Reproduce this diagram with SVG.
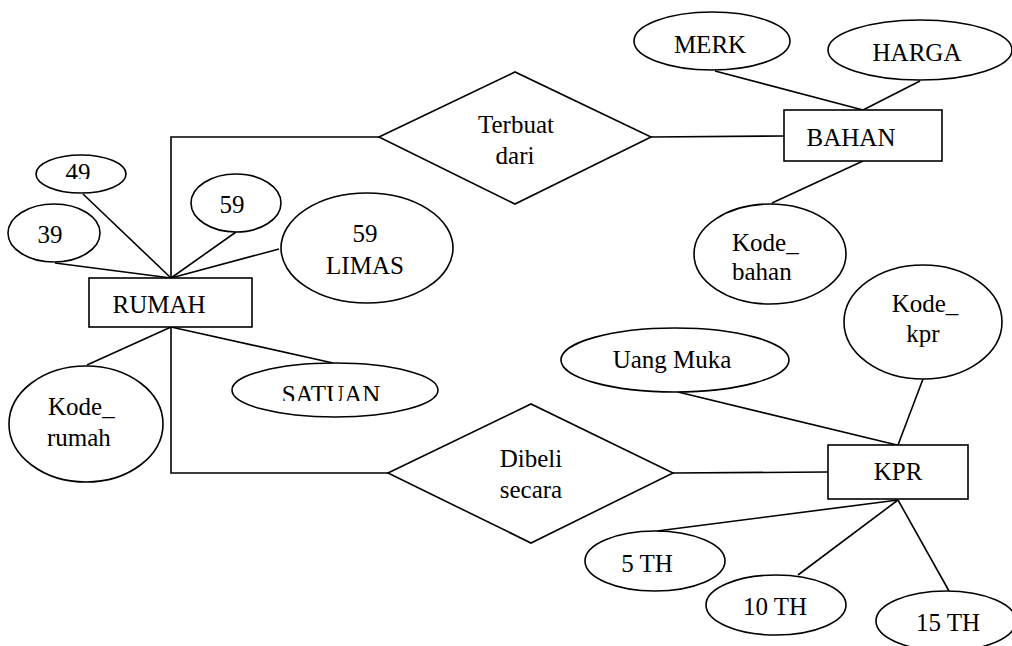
<svg xmlns="http://www.w3.org/2000/svg" width="1012" height="646" viewBox="0 0 1012 646">
<style>
.s{fill:#fff;stroke:#000;stroke-width:1.6}
.c{fill:none;stroke:#000;stroke-width:1.6}
text{font-family:"Liberation Serif","Times New Roman",serif;font-size:25px;fill:#000}
.m{text-anchor:middle}
</style>
<defs>
<clipPath id="clip49"><rect x="0" y="150" width="200" height="29"/></clipPath>
<clipPath id="clipSat"><rect x="220" y="370" width="240" height="31"/></clipPath>
</defs>
<rect width="1012" height="646" fill="#fff"/>
<g id="connectors" class="c">
<polyline points="171,278 171,137 379,137"/>
<line x1="651" y1="137" x2="784" y2="136"/>
<line x1="83" y1="194" x2="171" y2="278"/>
<line x1="55" y1="263" x2="171" y2="278"/>
<line x1="236" y1="232" x2="171" y2="278"/>
<line x1="279" y1="249" x2="171" y2="278"/>
<line x1="87" y1="365" x2="171" y2="327"/>
<line x1="333" y1="363" x2="171" y2="327"/>
<polyline points="171,327 171,473 388,473"/>
<line x1="673" y1="473" x2="828" y2="472"/>
<line x1="715" y1="71" x2="863" y2="110"/>
<line x1="920" y1="81" x2="863" y2="110"/>
<line x1="863" y1="161" x2="772" y2="203"/>
<line x1="678" y1="392" x2="897" y2="445"/>
<line x1="923" y1="379" x2="898" y2="445"/>
<line x1="657" y1="531" x2="898" y2="500"/>
<line x1="798" y1="575" x2="898" y2="500"/>
<line x1="949" y1="591" x2="898" y2="500"/>
</g>
<g id="rumah"><rect class="s" x="89" y="278" width="163" height="49"/><text class="m" x="159" y="313">RUMAH</text></g>
<g id="attr49"><ellipse class="s" cx="81" cy="174" rx="45" ry="19"/><text class="m" x="78" y="181" clip-path="url(#clip49)">49</text></g>
<g id="attr39"><ellipse class="s" cx="54" cy="233" rx="46" ry="29"/><text class="m" x="50" y="243">39</text></g>
<g id="attr59"><ellipse class="s" cx="236" cy="203" rx="45" ry="29"/><text class="m" x="232" y="213">59</text></g>
<g id="attr59limas"><ellipse class="s" cx="367" cy="248" rx="86" ry="55"/><text class="m" x="365" y="242">59</text><text class="m" x="365" y="274">LIMAS</text></g>
<g id="kode_rumah"><ellipse class="s" cx="86" cy="424" rx="77" ry="58"/><text x="48" y="415">Kode_</text><text x="47" y="446">rumah</text></g>
<g id="satuan"><ellipse class="s" cx="335" cy="390" rx="103" ry="27"/><text class="m" x="331" y="403" clip-path="url(#clipSat)">SATUAN</text></g>
<g id="terbuat"><polygon class="s" points="379,137 515,72 651,137 515,204"/><text class="m" x="516" y="133">Terbuat</text><text class="m" x="515" y="164">dari</text></g>
<g id="bahan"><rect class="s" x="784" y="110" width="158" height="51"/><text class="m" x="851" y="146">BAHAN</text></g>
<g id="merk"><ellipse class="s" cx="712" cy="41" rx="78" ry="29"/><text class="m" x="710" y="53">MERK</text></g>
<g id="harga"><ellipse class="s" cx="920" cy="50" rx="92" ry="30"/><text class="m" x="917" y="61">HARGA</text></g>
<g id="kode_bahan"><ellipse class="s" cx="770" cy="254" rx="76" ry="50"/><text x="732" y="251">Kode_</text><text x="732" y="280">bahan</text></g>
<g id="dibeli"><polygon class="s" points="388,473 531,404 673,473 531,543"/><text class="m" x="531" y="467">Dibeli</text><text class="m" x="531" y="498">secara</text></g>
<g id="kpr"><rect class="s" x="828" y="445" width="140" height="54"/><text class="m" x="898" y="480">KPR</text></g>
<g id="uang_muka"><ellipse class="s" cx="675" cy="360" rx="114" ry="32"/><text class="m" x="672" y="368">Uang Muka</text></g>
<g id="kode_kpr"><ellipse class="s" cx="923" cy="322" rx="79" ry="57"/><text class="m" x="925" y="312">Kode_</text><text class="m" x="923" y="342">kpr</text></g>
<g id="th5"><ellipse class="s" cx="655" cy="561" rx="70" ry="30"/><text class="m" x="647" y="572">5 TH</text></g>
<g id="th10"><ellipse class="s" cx="776" cy="605" rx="70" ry="30"/><text class="m" x="775" y="615">10 TH</text></g>
<g id="th15"><ellipse class="s" cx="946" cy="621" rx="70" ry="30"/><text class="m" x="948" y="631">15 TH</text></g>
</svg>
